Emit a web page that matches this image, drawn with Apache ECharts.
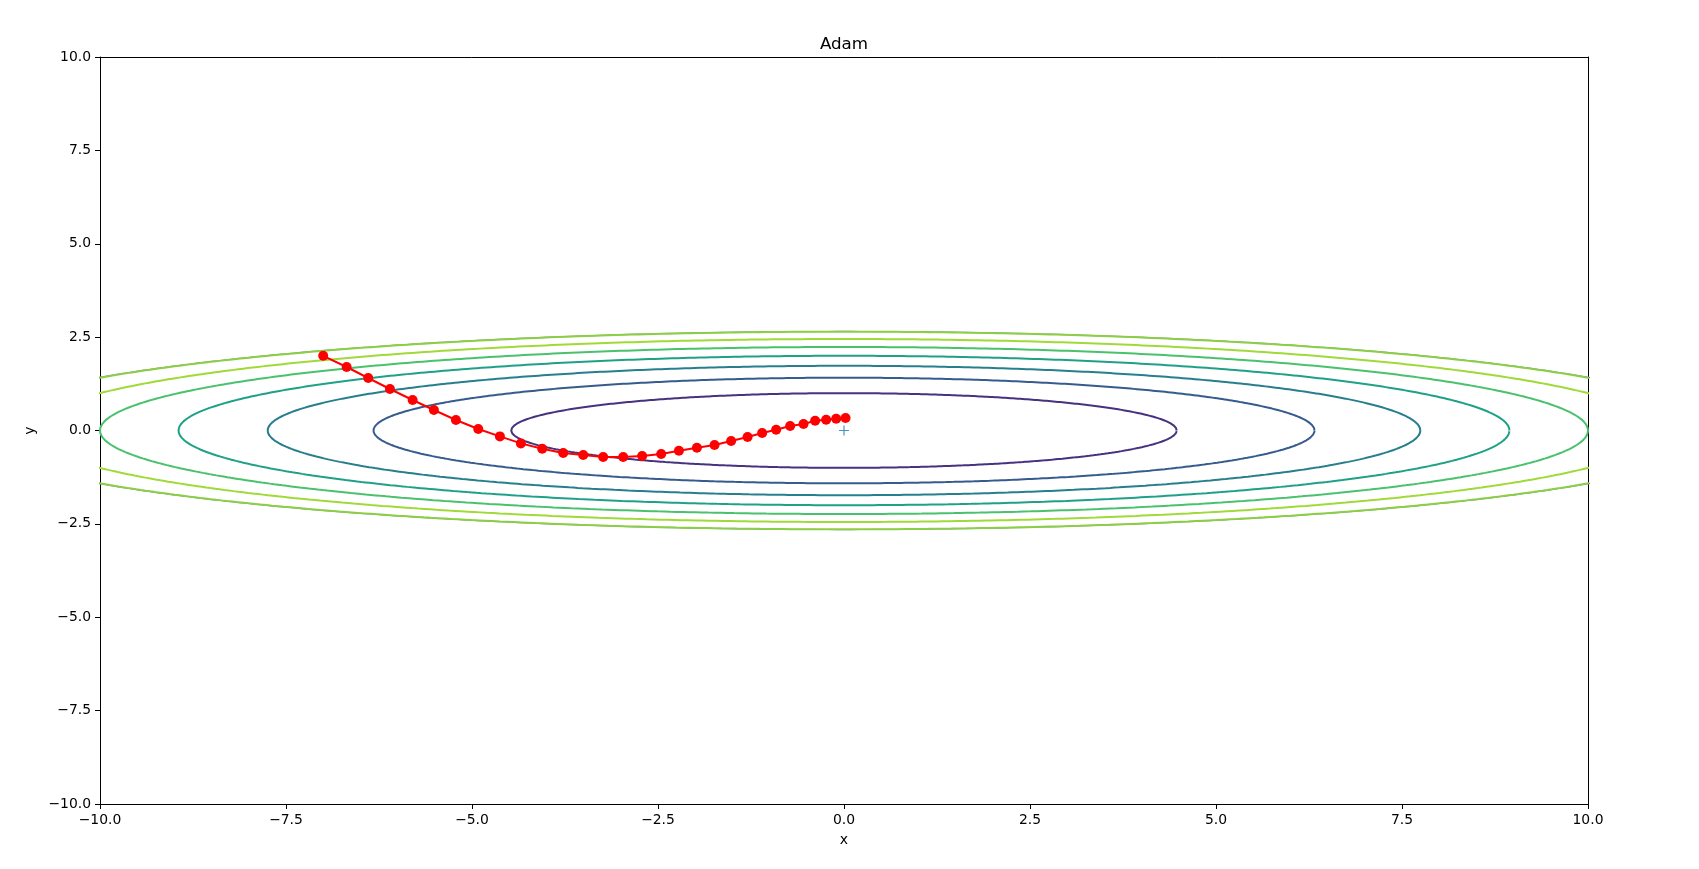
<!DOCTYPE html>
<html>
<head>
<meta charset="utf-8">
<script src="https://cdn.jsdelivr.net/npm/echarts@6/dist/echarts.min.js"></script>
<style>html,body{margin:0;padding:0;background:#fff}#c{width:1699px;height:869px}</style>
</head>
<body>
<div id="c"></div>
<script>
// Adam trajectory
const pathX = [-7.00,-6.685,-6.395,-6.103,-5.798,-5.512,-5.216,-4.916,-4.625,-4.343,-4.056,-3.774,-3.505,-3.237,-2.968,-2.713,-2.457,-2.219,-1.977,-1.740,-1.517,-1.296,-1.100,-0.912,-0.724,-0.544,-0.388,-0.240,-0.105,0.021];
const pathY = [2.00,1.70,1.406,1.111,0.817,0.549,0.281,0.040,-0.158,-0.345,-0.487,-0.602,-0.656,-0.709,-0.709,-0.683,-0.629,-0.541,-0.461,-0.388,-0.281,-0.174,-0.067,0.021,0.120,0.174,0.262,0.289,0.316,0.335];
const minimum = [[0, 0]];
// contour levels of f(x,y) = x^2/20 + y^2 and their colours
const levels = [1, 2, 3, 4, 5, 6];
const levelColors = ['#46327e', '#365c8d', '#277f8e', '#1fa187', '#4ac16d', '#a0da39'];
const boundaryLevel = 7;
const tickValues = [-10, -7.5, -5, -2.5, 0, 2.5, 5, 7.5, 10];

function ellipse(L) {
  const pts = [];
  const a = Math.sqrt(20 * L), b = Math.sqrt(L);
  for (let i = 0; i <= 720; i++) {
    const t = i / 720 * 2 * Math.PI;
    pts.push([a * Math.cos(t), b * Math.sin(t)]);
  }
  return pts;
}
const fmt = v => (v < 0 ? '\u2212' : '') + Math.abs(v).toFixed(1);
const font = 'DejaVu Sans';

const series = [];
series.push({
  type: 'line', data: ellipse(boundaryLevel + 0.03), showSymbol: false, silent: true,
  lineStyle: { color: '#6f86a6', width: 1.2 }, z: 1
});
series.push({
  type: 'line', data: ellipse(boundaryLevel), showSymbol: false, silent: true,
  lineStyle: { color: '#8ccf45', width: 2 }, z: 2
});
levels.forEach((L, i) => {
  series.push({
    type: 'line', data: ellipse(L), showSymbol: false, silent: true,
    lineStyle: { color: levelColors[i], width: 2 }, z: 2
  });
});
series.push({
  type: 'line', data: pathX.map((x, i) => [x, pathY[i]]),
  symbol: 'circle', symbolSize: 10, showAllSymbol: true,
  itemStyle: { color: '#ff0000' }, lineStyle: { color: '#ff0000', width: 2 }, z: 5
});
series.push({
  type: 'scatter', data: minimum,
  symbol: 'path://M-0.12,-1H0.12V-0.12H1V0.12H0.12V1H-0.12V0.12H-1V-0.12H-0.12Z',
  symbolSize: 10, itemStyle: { color: '#1f77b4' }, z: 6
});

const axisCommon = {
  type: 'value', min: -10, max: 10, interval: 2.5,
  splitLine: { show: false },
  axisLine: { show: true, onZero: false, lineStyle: { color: '#000', width: 1 } },
  axisTick: { show: true, length: 5, lineStyle: { color: '#000', width: 1 } },
  nameTextStyle: { fontFamily: font, fontSize: 14, color: '#000' }
};
const frameAxis = {
  type: 'value', min: -10, max: 10, interval: 2.5,
  splitLine: { show: false }, axisTick: { show: false }, axisLabel: { show: false },
  axisLine: { show: true, onZero: false, lineStyle: { color: '#000', width: 1 } }
};

const chart = echarts.init(document.getElementById('c'), null, { renderer: 'canvas' });
chart.setOption({
  animation: false,
  backgroundColor: '#fff',
  title: {
    text: 'Adam', left: 844, top: 36, textAlign: 'center', padding: 0,
    textStyle: { fontFamily: font, fontSize: 16.7, fontWeight: 'normal', color: '#000' }
  },
  grid: { left: 100, right: 111, top: 57, bottom: 65, show: false },
  xAxis: [
    Object.assign({}, axisCommon, {
      position: 'bottom',
      name: 'x', nameLocation: 'middle', nameGap: 29,
      axisLabel: { formatter: fmt, margin: 9, fontFamily: font, fontSize: 13.9, color: '#000' }
    }),
    Object.assign({}, frameAxis, { position: 'top' })
  ],
  yAxis: [
    Object.assign({}, axisCommon, {
      position: 'left',
      name: 'y', nameLocation: 'middle', nameGap: 58,
      axisLabel: { formatter: fmt, margin: 9, fontFamily: font, fontSize: 13.9, color: '#000' }
    }),
    Object.assign({}, frameAxis, { position: 'right' })
  ],
  series: series
});
</script>
</body>
</html>
